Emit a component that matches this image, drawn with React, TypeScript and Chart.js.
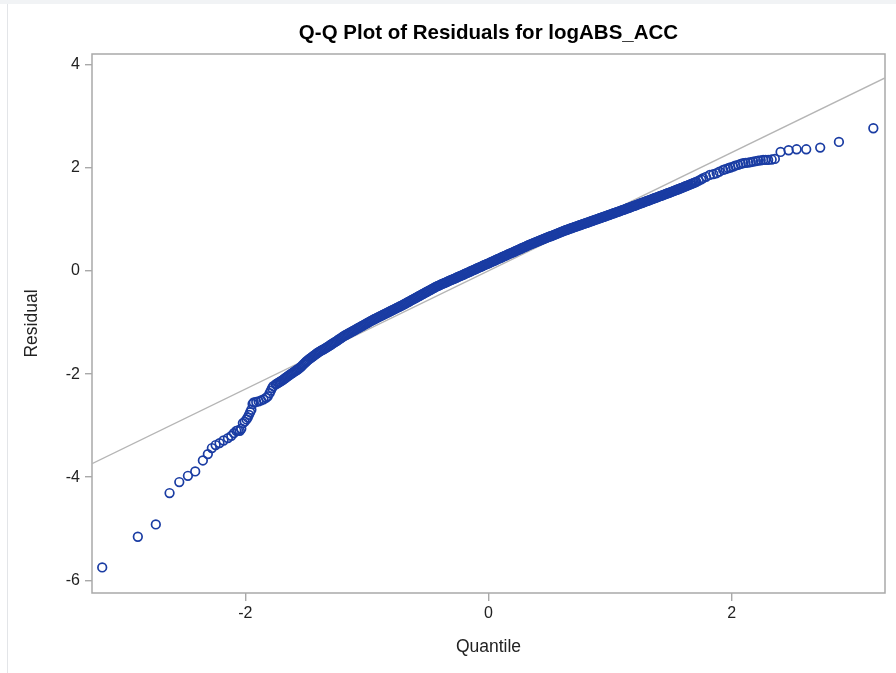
import React, { useEffect, useRef } from "react";
import { Chart, registerables } from "chart.js";

Chart.register(...registerables);

const TITLE = "Q-Q Plot of Residuals for logABS_ACC";
const X_LABEL = "Quantile";
const Y_LABEL = "Residual";
const X_TICKS = [-2, 0, 2];
const Y_TICKS = [-6, -4, -2, 0, 2, 4];
const X_MIN = -3.261;
const X_MAX = 3.262;
const Y_MIN = -6.248;
const Y_MAX = 4.213;
const REF_INTERCEPT = 0.005;
const REF_SLOPE = 1.148;

// Lower tail: normal quantiles and residuals
const LEFT_Q = [
  -3.177, -2.884, -2.736, -2.623, -2.543, -2.472, -2.412, -2.349, -2.308, -2.275,
  -2.244, -2.212, -2.179, -2.143, -2.115, -2.094, -2.074, -2.06, -2.045, -2.033,
  -2.02, -2.005, -1.99, -1.98, -1.97, -1.96, -1.95, -1.94, -1.93, -1.91,
  -1.89, -1.87, -1.85, -1.83, -1.815, -1.8, -1.79, -1.78, -1.77,
];
const LEFT_R = [
  -5.752, -5.156, -4.918, -4.308, -4.095, -3.973, -3.889, -3.676, -3.552, -3.435,
  -3.377, -3.339, -3.288, -3.242, -3.197, -3.145, -3.1, -3.09, -3.1, -3.06,
  -2.95, -2.92, -2.88, -2.84, -2.79, -2.74, -2.69, -2.58, -2.55, -2.54,
  -2.53, -2.51, -2.49, -2.46, -2.43, -2.37, -2.32, -2.27, -2.235,
];

// Dense central band
const BAND_Q = [
  -1.75, -1.74, -1.73, -1.72, -1.71, -1.7, -1.69, -1.68, -1.67, -1.66,
  -1.65, -1.64, -1.63, -1.62, -1.61, -1.6, -1.59, -1.58, -1.57, -1.56,
  -1.55, -1.54, -1.53, -1.52, -1.51, -1.5, -1.49, -1.48, -1.47, -1.46,
  -1.45, -1.44, -1.43, -1.42, -1.41, -1.4, -1.39, -1.38, -1.37, -1.36,
  -1.35, -1.34, -1.33, -1.32, -1.31, -1.3, -1.29, -1.28, -1.27, -1.26,
  -1.25, -1.24, -1.23, -1.22, -1.21, -1.2, -1.19, -1.18, -1.17, -1.16,
  -1.15, -1.14, -1.13, -1.12, -1.11, -1.1, -1.09, -1.08, -1.07, -1.06,
  -1.05, -1.04, -1.03, -1.02, -1.01, -1.0, -0.99, -0.98, -0.97, -0.96,
  -0.95, -0.94, -0.93, -0.92, -0.91, -0.9, -0.89, -0.88, -0.87, -0.86,
  -0.85, -0.84, -0.83, -0.82, -0.81, -0.8, -0.79, -0.78, -0.77, -0.76,
  -0.75, -0.74, -0.73, -0.72, -0.71, -0.7, -0.69, -0.68, -0.67, -0.66,
  -0.65, -0.64, -0.63, -0.62, -0.61, -0.6, -0.59, -0.58, -0.57, -0.56,
  -0.55, -0.54, -0.53, -0.52, -0.51, -0.5, -0.49, -0.48, -0.47, -0.46,
  -0.45, -0.44, -0.43, -0.42, -0.41, -0.4, -0.39, -0.38, -0.37, -0.36,
  -0.35, -0.34, -0.33, -0.32, -0.31, -0.3, -0.29, -0.28, -0.27, -0.26,
  -0.25, -0.24, -0.23, -0.22, -0.21, -0.2, -0.19, -0.18, -0.17, -0.16,
  -0.15, -0.14, -0.13, -0.12, -0.11, -0.1, -0.09, -0.08, -0.07, -0.06,
  -0.05, -0.04, -0.03, -0.02, -0.01, 0.0, 0.01, 0.02, 0.03, 0.04,
  0.05, 0.06, 0.07, 0.08, 0.09, 0.1, 0.11, 0.12, 0.13, 0.14,
  0.15, 0.16, 0.17, 0.18, 0.19, 0.2, 0.21, 0.22, 0.23, 0.24,
  0.25, 0.26, 0.27, 0.28, 0.29, 0.3, 0.31, 0.32, 0.33, 0.34,
  0.35, 0.36, 0.37, 0.38, 0.39, 0.4, 0.41, 0.42, 0.43, 0.44,
  0.45, 0.46, 0.47, 0.48, 0.49, 0.5, 0.51, 0.52, 0.53, 0.54,
  0.55, 0.56, 0.57, 0.58, 0.59, 0.6, 0.61, 0.62, 0.63, 0.64,
  0.65, 0.66, 0.67, 0.68, 0.69, 0.7, 0.71, 0.72, 0.73, 0.74,
  0.75, 0.76, 0.77, 0.78, 0.79, 0.8, 0.81, 0.82, 0.83, 0.84,
  0.85, 0.86, 0.87, 0.88, 0.89, 0.9, 0.91, 0.92, 0.93, 0.94,
  0.95, 0.96, 0.97, 0.98, 0.99, 1.0, 1.01, 1.02, 1.03, 1.04,
  1.05, 1.06, 1.07, 1.08, 1.09, 1.1, 1.11, 1.12, 1.13, 1.14,
  1.15, 1.16, 1.17, 1.18, 1.19, 1.2, 1.21, 1.22, 1.23, 1.24,
  1.25, 1.26, 1.27, 1.28, 1.29, 1.3, 1.31, 1.32, 1.33, 1.34,
  1.35, 1.36, 1.37, 1.38, 1.39, 1.4, 1.41, 1.42, 1.43, 1.44,
  1.45, 1.46, 1.47, 1.48, 1.49, 1.5, 1.51, 1.52, 1.53, 1.54,
  1.55, 1.56, 1.57, 1.58, 1.59, 1.6, 1.61, 1.62, 1.63, 1.64,
  1.65, 1.66, 1.67, 1.68, 1.69, 1.7, 1.71,
];
const BAND_R = [
  -2.2, -2.185, -2.17, -2.155, -2.14, -2.125, -2.11, -2.093, -2.075, -2.058,
  -2.04, -2.023, -2.005, -1.99, -1.975, -1.958, -1.94, -1.925, -1.91, -1.893,
  -1.875, -1.853, -1.83, -1.805, -1.78, -1.76, -1.74, -1.72, -1.7, -1.683,
  -1.665, -1.648, -1.63, -1.613, -1.595, -1.58, -1.565, -1.55, -1.535, -1.523,
  -1.51, -1.495, -1.48, -1.465, -1.45, -1.435, -1.42, -1.405, -1.39, -1.375,
  -1.36, -1.343, -1.325, -1.31, -1.295, -1.279, -1.262, -1.249, -1.236, -1.223,
  -1.21, -1.197, -1.184, -1.171, -1.158, -1.145, -1.131, -1.118, -1.105, -1.092,
  -1.079, -1.066, -1.052, -1.039, -1.026, -1.013, -1.0, -0.987, -0.973, -0.96,
  -0.947, -0.935, -0.923, -0.912, -0.9, -0.888, -0.876, -0.865, -0.853, -0.841,
  -0.829, -0.817, -0.805, -0.794, -0.782, -0.77, -0.758, -0.747, -0.735, -0.723,
  -0.711, -0.7, -0.688, -0.676, -0.664, -0.652, -0.639, -0.626, -0.613, -0.6,
  -0.587, -0.574, -0.561, -0.548, -0.535, -0.523, -0.51, -0.497, -0.484, -0.471,
  -0.458, -0.445, -0.432, -0.419, -0.406, -0.393, -0.38, -0.368, -0.355, -0.342,
  -0.329, -0.316, -0.303, -0.293, -0.282, -0.271, -0.26, -0.25, -0.239, -0.229,
  -0.218, -0.208, -0.197, -0.187, -0.176, -0.166, -0.155, -0.145, -0.135, -0.125,
  -0.114, -0.104, -0.093, -0.083, -0.072, -0.062, -0.051, -0.04, -0.029, -0.019,
  -0.008, 0.003, 0.013, 0.024, 0.034, 0.045, 0.056, 0.067, 0.077, 0.088,
  0.098, 0.109, 0.119, 0.13, 0.14, 0.151, 0.161, 0.172, 0.183, 0.194,
  0.204, 0.215, 0.225, 0.236, 0.247, 0.258, 0.268, 0.279, 0.289, 0.3,
  0.311, 0.322, 0.332, 0.343, 0.353, 0.364, 0.374, 0.385, 0.396, 0.407,
  0.417, 0.428, 0.438, 0.449, 0.459, 0.47, 0.481, 0.492, 0.502, 0.513,
  0.523, 0.534, 0.544, 0.554, 0.563, 0.573, 0.582, 0.591, 0.6, 0.61,
  0.619, 0.629, 0.638, 0.648, 0.657, 0.667, 0.676, 0.685, 0.694, 0.704,
  0.713, 0.723, 0.732, 0.741, 0.75, 0.76, 0.769, 0.779, 0.788, 0.797,
  0.806, 0.815, 0.823, 0.831, 0.839, 0.848, 0.856, 0.864, 0.872, 0.881,
  0.889, 0.897, 0.905, 0.914, 0.922, 0.93, 0.938, 0.947, 0.955, 0.964,
  0.972, 0.98, 0.988, 0.997, 1.005, 1.013, 1.021, 1.03, 1.038, 1.046,
  1.054, 1.063, 1.071, 1.08, 1.088, 1.097, 1.105, 1.114, 1.122, 1.13,
  1.138, 1.147, 1.155, 1.164, 1.172, 1.181, 1.189, 1.198, 1.206, 1.215,
  1.224, 1.233, 1.241, 1.25, 1.259, 1.268, 1.277, 1.286, 1.295, 1.304,
  1.312, 1.321, 1.33, 1.339, 1.348, 1.357, 1.365, 1.374, 1.383, 1.392,
  1.4, 1.409, 1.418, 1.427, 1.436, 1.445, 1.453, 1.462, 1.471, 1.48,
  1.489, 1.498, 1.506, 1.515, 1.524, 1.533, 1.542, 1.551, 1.56, 1.569,
  1.578, 1.588, 1.597, 1.607, 1.616, 1.626, 1.636, 1.646, 1.655, 1.665,
  1.674, 1.684, 1.694, 1.704, 1.713, 1.723, 1.733,
];

// Upper tail
const RIGHT_Q = [
  1.73, 1.75, 1.766, 1.79, 1.821, 1.85, 1.877, 1.9, 1.931, 1.95,
  1.972, 1.99, 2.013, 2.03, 2.054, 2.075, 2.095, 2.115, 2.137, 2.158,
  2.178, 2.2, 2.219, 2.24, 2.26, 2.28, 2.301, 2.33, 2.356, 2.403,
  2.469, 2.535, 2.614, 2.729, 2.883, 3.166,
];
const RIGHT_R = [
  1.755, 1.78, 1.802, 1.83, 1.866, 1.88, 1.899, 1.93, 1.963, 1.98,
  1.996, 2.01, 2.027, 2.045, 2.06, 2.08, 2.093, 2.1, 2.105, 2.115,
  2.124, 2.135, 2.144, 2.15, 2.157, 2.157, 2.157, 2.165, 2.176, 2.312,
  2.345, 2.364, 2.364, 2.396, 2.506, 2.772,
];

const FONT = '"Liberation Sans", Arial, Helvetica, sans-serif';
const MARKER_COLOR = "#1a3ca3";
const AXIS_COLOR = "#a9a9a9";
const REF_COLOR = "#b5b5b5";
const TEXT_COLOR = "#222222";

const decorPlugin = {
  id: "decor",
  beforeDraw(chart: any) {
    const { ctx, width, height } = chart;
    ctx.save();
    ctx.fillStyle = "#ffffff";
    ctx.fillRect(0, 0, width, height);
    ctx.fillStyle = "#f1f3f5";
    ctx.fillRect(0, 0, width, 4);
    ctx.fillStyle = "#e3e5e8";
    ctx.fillRect(7, 4, 1, height - 4);
    ctx.restore();
  },
  beforeDatasetsDraw(chart: any) {
    const { ctx, chartArea } = chart;
    ctx.save();
    ctx.strokeStyle = AXIS_COLOR;
    ctx.lineWidth = 1.5;
    ctx.strokeRect(
      chartArea.left,
      chartArea.top,
      chartArea.right - chartArea.left,
      chartArea.bottom - chartArea.top
    );
    ctx.restore();
  },
  afterDraw(chart: any) {
    const { ctx, chartArea } = chart;
    const cx = (chartArea.left + chartArea.right) / 2;
    const cy = (chartArea.top + chartArea.bottom) / 2;
    ctx.save();
    ctx.fillStyle = "#000000";
    ctx.textAlign = "center";
    ctx.textBaseline = "middle";
    ctx.font = `bold 20.5px ${FONT}`;
    ctx.fillText(TITLE, cx, 33);
    ctx.fillStyle = TEXT_COLOR;
    ctx.font = `17.5px ${FONT}`;
    ctx.fillText(X_LABEL, cx, 647);
    ctx.translate(32, cy);
    ctx.rotate(-Math.PI / 2);
    ctx.fillText(Y_LABEL, 0, 0);
    ctx.restore();
  },
};

export default function App() {
  const canvasRef = useRef<HTMLCanvasElement | null>(null);

  useEffect(() => {
    const canvas = canvasRef.current;
    if (!canvas) return;
    const qs = [...LEFT_Q, ...BAND_Q, ...RIGHT_Q];
    const rs = [...LEFT_R, ...BAND_R, ...RIGHT_R];
    const points = qs.map((q, i) => ({ x: q, y: rs[i] }));
    const refLine = [
      { x: X_MIN, y: REF_INTERCEPT + REF_SLOPE * X_MIN },
      { x: X_MAX, y: REF_INTERCEPT + REF_SLOPE * X_MAX },
    ];
    const chart = new Chart(canvas, {
      type: "scatter",
      data: {
        datasets: [
          {
            type: "scatter",
            label: "Residuals",
            data: points,
            pointStyle: "circle",
            pointRadius: 4.3,
            pointBorderWidth: 1.7,
            borderColor: MARKER_COLOR,
            backgroundColor: "rgba(0,0,0,0)",
            order: 1,
          } as any,
          {
            type: "line",
            label: "Reference",
            data: refLine,
            showLine: true,
            pointRadius: 0,
            borderColor: REF_COLOR,
            borderWidth: 1.4,
            fill: false,
            order: 2,
          } as any,
        ],
      },
      options: {
        responsive: false,
        animation: false,
        devicePixelRatio: 1,
        layout: { padding: { top: 54, right: 11, left: 0, bottom: 0 } },
        plugins: {
          legend: { display: false },
          tooltip: { enabled: false },
          title: { display: false },
        },
        scales: {
          x: {
            type: "linear",
            min: X_MIN,
            max: X_MAX,
            afterBuildTicks: (scale: any) => {
              scale.ticks = X_TICKS.map((v) => ({ value: v }));
            },
            afterFit: (scale: any) => {
              scale.height = 80;
            },
            border: { display: false },
            grid: {
              display: true,
              drawOnChartArea: false,
              drawTicks: true,
              tickLength: 8,
              color: AXIS_COLOR,
              lineWidth: 1.4,
            },
            ticks: {
              padding: 3,
              color: TEXT_COLOR,
              font: { family: FONT, size: 16 },
              callback: (v: any) => String(v),
              maxRotation: 0,
            },
          },
          y: {
            type: "linear",
            min: Y_MIN,
            max: Y_MAX,
            afterBuildTicks: (scale: any) => {
              scale.ticks = Y_TICKS.map((v) => ({ value: v }));
            },
            afterFit: (scale: any) => {
              scale.width = 92;
            },
            border: { display: false },
            grid: {
              display: true,
              drawOnChartArea: false,
              drawTicks: true,
              tickLength: 7,
              color: AXIS_COLOR,
              lineWidth: 1.4,
            },
            ticks: {
              padding: 5,
              color: TEXT_COLOR,
              font: { family: FONT, size: 16 },
              callback: (v: any) => String(v),
            },
          },
        },
      },
      plugins: [decorPlugin],
    });
    return () => chart.destroy();
  }, []);

  return (
    <div
      style={{
        position: "absolute",
        left: 0,
        top: 0,
        width: 896,
        height: 673,
        background: "#ffffff",
      }}
    >
      <canvas
        ref={canvasRef}
        width={896}
        height={673}
        style={{ width: 896, height: 673, display: "block" }}
      />
    </div>
  );
}
